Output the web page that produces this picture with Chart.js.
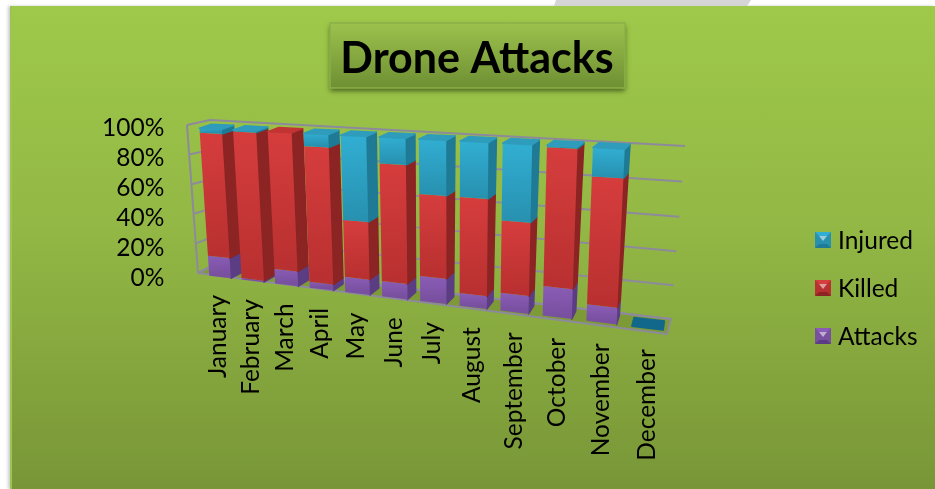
<!DOCTYPE html>
<html>
<head>
<meta charset="utf-8">
<title>Drone Attacks</title>
<script src="https://cdn.jsdelivr.net/npm/chart.js@4"></script>
<style>
  html, body { margin: 0; height: 100%; background: #fff; overflow: hidden; }
  #panel { position: absolute; left: 10px; top: 6px; right: 0; bottom: 0;
    background: linear-gradient(#9ec94a, #93b845 45%, #789637);
    border-left: 2px solid #9cc452; box-shadow: -2px 0 3px #ccc; }
  #sliver { position: absolute; left: 554px; top: 0; width: 197px; height: 6px;
    background: #d5d5d5; clip-path: polygon(1% 0, 100% 0, 98% 100%, 0 100%); }
  canvas { position: absolute; left: 0; top: 0; }
</style>
</head>
<body>
<div id="sliver"></div>
<div id="panel"></div>
<canvas id="chart" width="935" height="489"></canvas>
<script>
const chartTitle = "Drone Attacks";
const months = ["January", "February", "March", "April", "May", "June", "July", "August", "September", "October", "November", "December"];
// share of each month's total, in percent
const attacks = [14, 1, 10, 4, 10, 10, 16, 8, 11, 18, 10, 0];
const killed = [83, 98, 90, 88, 37, 74, 51, 59, 44, 81, 74, 0];
const injured = [3, 1, 0, 8, 53, 16, 33, 33, 45, 1, 16, 0];

const colors = {
    Attacks: { hi: "#8a5cb6", lo: "#78509f", side: "#5b3d84", cap: "#9470bd" },
    Killed: { hi: "#d63d3d", lo: "#b93030", side: "#8c2424", cap: "#c23434" },
    Injured: { hi: "#31aed2", lo: "#2891b0", side: "#1e7a95", cap: "#2f9cbc" },
};

// unit square -> quad, (0,0) (1,0) (1,1) (0,1)
function quadMap(p0, p1, p2, p3) {
    const sx = p0[0] - p1[0] + p2[0] - p3[0];
    const sy = p0[1] - p1[1] + p2[1] - p3[1];
    const dx1 = p1[0] - p2[0], dx2 = p3[0] - p2[0];
    const dy1 = p1[1] - p2[1], dy2 = p3[1] - p2[1];
    const den = dx1 * dy2 - dx2 * dy1;
    const g = (sx * dy2 - dx2 * sy) / den;
    const h = (dx1 * sy - sx * dy1) / den;
    const a = p1[0] - p0[0] + g * p1[0], b = p3[0] - p0[0] + h * p3[0];
    const d = p1[1] - p0[1] + g * p1[1], e = p3[1] - p0[1] + h * p3[1];
    return (u, v) => {
        const w = g * u + h * v + 1;
        return [(a * u + b * v + p0[0]) / w, (d * u + e * v + p0[1]) / w];
    };
}

const barFront = quadMap([204, 275], [671, 331], [682, 152], [194, 128]);
const barBack = quadMap([216, 269], [672, 322], [686, 147], [206, 124]);
const wall = quadMap([212, 266], [671, 319], [685, 146], [210, 120]);
const sideEdge = (v) => [198 - 11 * v, 273 - 148 * v];

function project(u, v, depth) {
    const f = barFront(u, v), b = barBack(u, v);
    return [f[0] + (b[0] - f[0]) * depth, f[1] + (b[1] - f[1]) * depth];
}

function poly(ctx, pts, fill, stroke) {
    ctx.beginPath();
    pts.forEach((p, i) => (i ? ctx.lineTo(p[0], p[1]) : ctx.moveTo(p[0], p[1])));
    ctx.closePath();
    if (fill) { ctx.fillStyle = fill; ctx.fill(); }
    if (stroke) { ctx.strokeStyle = stroke; ctx.stroke(); }
}

const perspective = {
    id: "perspective",
    beforeDatasetsDraw(chart) {
        const ctx = chart.ctx, area = chart.chartArea;
        const toV = (py) => (area.bottom - py) / area.height;
        const toU = (px) => (px - area.left) / area.width;

        ctx.save();
        ctx.lineJoin = "round";
        ctx.lineWidth = 2;
        const line = "#8d8a9c";
        // floor, side wall, grid
        poly(ctx, [[198, 273], [667, 334], [671, 319], [212, 266]], "#7d9a36", line);
        chart.scales.y.ticks.forEach((t) => {
            const v = toV(chart.scales.y.getPixelForValue(t.value));
            const a = sideEdge(v), b = wall(0, v), c = wall(1, v);
            ctx.strokeStyle = line;
            ctx.beginPath();
            ctx.moveTo(a[0], a[1]);
            ctx.lineTo(b[0], b[1]);
            ctx.lineTo(c[0], c[1]);
            ctx.stroke();
        });
        const se0 = sideEdge(0), se1 = sideEdge(1);
        ctx.beginPath();
        ctx.moveTo(se0[0], se0[1]);
        ctx.lineTo(se1[0], se1[1]);
        ctx.stroke();

        // bars, through the elements chart.js laid out on its scales
        const metas = chart.data.datasets.map((d, i) => chart.getDatasetMeta(i));
        ctx.lineWidth = 1.5;
        months.forEach((m, idx) => {
            let topSet = metas.length - 1;
            for (let s = metas.length - 1; s >= 0; s--) {
                if (chart.data.datasets[s].data[idx] > 0) { topSet = s; break; }
            }
            metas.forEach((meta, s) => {
                const el = meta.data[idx];
                const c = colors[chart.data.datasets[s].label];
                const u0 = toU(el.x - el.width / 2), u1 = toU(el.x + el.width / 2);
                const v0 = toV(el.base), v1 = toV(el.y);
                if (chart.data.datasets[s].data[idx] > 0) {
                    poly(ctx, [project(u1, v0, 0), project(u1, v1, 0), project(u1, v1, 1), project(u1, v0, 1)], c.side, c.side);
                    const a = project(u0, v1, 0), b = project(u0, v0, 0);
                    const grad = ctx.createLinearGradient(a[0], a[1], b[0], b[1]);
                    grad.addColorStop(0, c.hi);
                    grad.addColorStop(1, c.lo);
                    poly(ctx, [project(u0, v0, 0), project(u1, v0, 0), project(u1, v1, 0), project(u0, v1, 0)], grad, null);
                }
                if (s === topSet) {
                    const capFill = chart.data.datasets[s].data[idx] > 0 ? c.cap : "#12688a";
                    poly(ctx, [project(u0, v1, 0), project(u1, v1, 0), project(u1, v1, 1), project(u0, v1, 1)], capFill, capFill);
                }
            });
        });

        // month labels sit along the slanted floor
        const xs = chart.scales.x;
        ctx.fillStyle = "#000";
        ctx.font = "24.5px Lato";
        ctx.textAlign = "right";
        ctx.textBaseline = "middle";
        months.forEach((m, idx) => {
            const p = project(toU(xs.getPixelForValue(idx)), 0, 0);
            ctx.save();
            ctx.translate(p[0] - 2 + 2 * idx / 11, p[1] + 18 + 3 * idx / 11);
            ctx.rotate(-Math.PI / 2);
            ctx.fillText(xs.getLabelForValue(idx), 0, 0);
            ctx.restore();
        });

        // title box
        ctx.save();
        ctx.shadowColor = "rgba(40,60,10,0.7)";
        ctx.shadowBlur = 5;
        ctx.shadowOffsetY = 3;
        const tg = ctx.createLinearGradient(0, 23, 0, 88);
        tg.addColorStop(0, "#9cc24d");
        tg.addColorStop(1, "#6f8f33");
        ctx.fillStyle = tg;
        ctx.fillRect(330, 23, 295, 65);
        ctx.restore();
        ctx.strokeStyle = "#8cb048";
        ctx.lineWidth = 1.5;
        ctx.strokeRect(330, 23, 295, 65);
        ctx.fillStyle = "#000";
        ctx.font = "bold 43px Lato";
        ctx.textAlign = "center";
        ctx.fillText(chartTitle, 477, 59);

        // legend, top of the stack first
        ctx.font = "24.5px Lato";
        ctx.textAlign = "left";
        chart.data.datasets.slice().reverse().forEach((d, i) => {
            const c = colors[d.label];
            const top = 232 + i * 48;
            ctx.fillStyle = c.lo;
            ctx.fillRect(815, top, 16, 16);
            poly(ctx, [[815, top], [831, top], [827, top + 4], [819, top + 4]], c.hi, null);
            poly(ctx, [[819, top + 4], [827, top + 4], [823, top + 9]], "#fff8", null);
            poly(ctx, [[815, top + 16], [831, top + 16], [827, top + 12], [819, top + 12]], c.side, null);
            ctx.fillStyle = "#000";
            ctx.fillText(d.label, 838, top + 9);
        });
        ctx.restore();
        return false;
    },
};

new Chart(document.getElementById("chart"), {
    type: "bar",
    data: {
        labels: months,
        datasets: [
            { label: "Attacks", data: attacks },
            { label: "Killed", data: killed },
            { label: "Injured", data: injured },
        ],
    },
    options: {
        responsive: false,
        animation: false,
        layout: { padding: { left: 94, top: 128, bottom: 203, right: 0 } },
        datasets: { bar: { barPercentage: 0.67, categoryPercentage: 1 } },
        plugins: { legend: { display: false }, title: { display: false }, tooltip: { enabled: false } },
        scales: {
            x: { stacked: true, grid: { display: false }, border: { display: false }, ticks: { display: false } },
            y: {
                stacked: true,
                min: 0,
                max: 100,
                grid: { display: false, drawTicks: false },
                border: { display: false },
                ticks: {
                    stepSize: 20,
                    autoSkip: false,
                    padding: 8,
                    color: "#000",
                    font: { family: "Lato", size: 24.5 },
                    callback: (v) => v + "%",
                },
            },
        },
    },
    plugins: [perspective],
});
</script>
</body>
</html>
